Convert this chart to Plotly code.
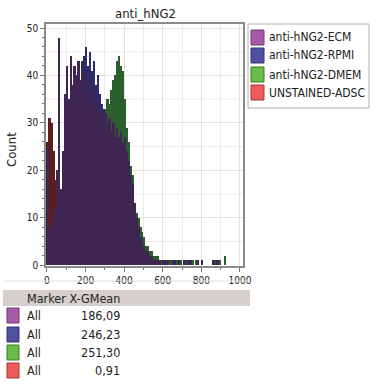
import plotly.graph_objects as go

# ---------------- data ----------------
bin_width = 10
bin_centers = [5 + 10 * i for i in range(100)]

ecm_counts = [25, 8, 7, 9, 12, 20, 48, 16, 24, 36,
              42, 35, 44, 38, 42, 40, 43, 38, 41, 37,
              40, 36, 39, 35, 37, 33, 35, 31, 33, 30,
              32, 29, 31, 28, 30, 27, 29, 27, 28, 26,
              27, 24, 22, 19, 17, 13, 10, 8, 6, 5,
              4, 3, 3, 2, 2, 1, 1, 1, 1, 0,
              1, 0, 1, 0, 0, 1, 0, 0, 1, 0,
              0, 1, 0, 0, 1, 0, 0, 0, 1, 0,
              1, 0, 0, 0, 0, 0, 1, 0, 1, 0,
              0, 0, 0, 0, 0, 0, 0, 0, 0, 0]
rpmi_counts = [10, 6, 5, 6, 8, 10, 14, 16, 20, 23,
               26, 29, 31, 34, 36, 38, 40, 39, 43, 44,
               46, 42, 45, 41, 43, 38, 40, 36, 34, 33,
               31, 30, 29, 27, 26, 25, 24, 23, 22, 21,
               20, 18, 17, 15, 13, 10, 8, 6, 5, 4,
               3, 2, 2, 1, 1, 1, 0, 0, 0, 0,
               0, 1, 0, 0, 0, 0, 1, 0, 0, 0,
               0, 0, 0, 1, 0, 0, 0, 0, 0, 0,
               0, 0, 0, 0, 0, 0, 0, 0, 0, 0,
               0, 0, 0, 0, 0, 0, 0, 0, 0, 0]
dmem_counts = [5, 4, 4, 5, 6, 7, 9, 10, 12, 14,
               16, 17, 19, 20, 21, 22, 23, 24, 25, 25,
               26, 27, 27, 28, 28, 29, 30, 30, 31, 32,
               33, 35, 34, 37, 39, 40, 43, 44, 42, 41,
               35, 29, 26, 21, 19, 13, 11, 10, 8, 7,
               6, 4, 4, 3, 3, 2, 2, 2, 1, 1,
               1, 1, 0, 1, 1, 0, 1, 1, 0, 1,
               0, 1, 1, 0, 0, 1, 0, 1, 0, 0,
               1, 0, 0, 0, 0, 0, 0, 1, 0, 1,
               0, 0, 2, 0, 0, 0, 0, 0, 0, 0]
unstained_counts = [26, 31, 30, 24, 18, 8, 3, 1] + [0] * 92

series_names = ["anti-hNG2-ECM", "anti-hNG2-RPMI", "anti-hNG2-DMEM", "UNSTAINED-ADSC"]
gmean_values = ["186,09", "246,23", "251,30", "0,91"]
x_tick_vals = [0, 200, 400, 600, 800, 1000]
y_tick_vals = [0, 10, 20, 30, 40, 50]

# ---------------- styles ----------------
fill_colors = {"anti-hNG2-ECM": "#3f2552", "anti-hNG2-RPMI": "#2d2a68",
               "anti-hNG2-DMEM": "#2a5e2c", "UNSTAINED-ADSC": "#5e1d1d"}
swatch_colors = ["#a65aa8", "#4f509e", "#6abd48", "#ef5b5b"]
swatch_edges = ["#6a3a6c", "#33346a", "#3f7a2a", "#a03838"]

FONT = "DejaVu Sans Condensed, DejaVu Sans, sans-serif"

fig = go.Figure()
draw_order = [("UNSTAINED-ADSC", unstained_counts), ("anti-hNG2-DMEM", dmem_counts),
              ("anti-hNG2-RPMI", rpmi_counts), ("anti-hNG2-ECM", ecm_counts)]
for name, counts in draw_order:
    fig.add_trace(go.Bar(
        x=bin_centers, y=counts, width=bin_width, name=name,
        marker=dict(color=fill_colors[name], line=dict(width=0)),
        showlegend=False, hoverinfo="skip"))

# layout geometry (pixels)
W, H = 370, 384
L, R, T, B = 46, 127, 24, 118
pw, ph = W - L - R, H - T - B


def px(x):
    return (x - L) / pw


def py(y):
    return (H - B - y) / ph


shapes = []
annotations = []

# legend box
shapes.append(dict(type="rect", xref="paper", yref="paper",
                   x0=px(248), x1=px(369), y0=py(108), y1=py(24),
                   line=dict(color="#b0b0b0", width=1), fillcolor="white"))
leg_tops = [30, 48, 67, 85]
for i, name in enumerate(series_names):
    t = leg_tops[i]
    shapes.append(dict(type="rect", xref="paper", yref="paper",
                       x0=px(251), x1=px(264), y0=py(t + 15), y1=py(t),
                       line=dict(color=swatch_edges[i], width=1),
                       fillcolor=swatch_colors[i]))
    annotations.append(dict(text=name, xref="paper", yref="paper",
                            x=px(267), y=py(t + 7.5), xanchor="left", yanchor="middle",
                            showarrow=False, font=dict(family=FONT, size=12, color="#222")))

# table header band
shapes.append(dict(type="rect", xref="paper", yref="paper",
                   x0=px(3), x1=px(250), y0=py(306), y1=py(290),
                   line=dict(width=0), fillcolor="#d6d0cc"))
shapes.append(dict(type="line", xref="paper", yref="paper",
                   x0=px(3), x1=px(250), y0=py(281), y1=py(281),
                   line=dict(color="#e4e0dc", width=1)))
annotations.append(dict(text="Marker X-GMean", xref="paper", yref="paper",
                        x=px(25), y=py(298), xanchor="left", yanchor="middle",
                        showarrow=False, font=dict(family=FONT, size=12.5, color="#222")))
row_tops = [308, 327, 345, 363]
for i, val in enumerate(gmean_values):
    t = row_tops[i]
    shapes.append(dict(type="rect", xref="paper", yref="paper",
                       x0=px(7), x1=px(19), y0=py(t + 15), y1=py(t),
                       line=dict(color=swatch_edges[i], width=1),
                       fillcolor=swatch_colors[i]))
    annotations.append(dict(text="All", xref="paper", yref="paper",
                            x=px(25), y=py(t + 7.5), xanchor="left", yanchor="middle",
                            showarrow=False, font=dict(family=FONT, size=12.5, color="#222")))
    annotations.append(dict(text=val, xref="paper", yref="paper",
                            x=px(122), y=py(t + 7.5), xanchor="right", yanchor="middle",
                            showarrow=False, font=dict(family=FONT, size=12.5, color="#222")))

# title and y axis label
annotations.append(dict(text="anti_hNG2", xref="paper", yref="paper",
                        x=px(145), y=py(14), xanchor="center", yanchor="middle",
                        showarrow=False, font=dict(family=FONT, size=13, color="#222")))
annotations.append(dict(text="Count", xref="paper", yref="paper",
                        x=px(11), y=py(150), xanchor="center", yanchor="middle",
                        textangle=-90, showarrow=False,
                        font=dict(family=FONT, size=13, color="#222")))

fig.update_layout(
    width=W, height=H, autosize=False,
    margin=dict(l=L, r=R, t=T, b=B, pad=0),
    paper_bgcolor="white", plot_bgcolor="white",
    barmode="overlay", bargap=0,
    shapes=shapes, annotations=annotations,
    font=dict(family=FONT, size=10, color="#222"),
)
fig.update_xaxes(range=[-5, 1016], tickvals=x_tick_vals, ticks="outside", ticklen=4,
                 tickcolor="#777", showline=True, linecolor="#8a8a8a", linewidth=1.5,
                 mirror=True, showgrid=True, gridcolor="#e8dedb", gridwidth=1,
                 zeroline=False, tickfont=dict(size=10),
                 minor=dict(dtick=100, ticks="outside", ticklen=2, tickcolor="#777",
                            showgrid=True, gridcolor="#f0eae8"))
fig.update_yaxes(range=[-0.2, 50.85], tickvals=y_tick_vals, ticks="outside", ticklen=4,
                 tickcolor="#777", showline=True, linecolor="#8a8a8a", linewidth=1.5,
                 mirror=True, showgrid=True, gridcolor="#e8dedb", gridwidth=1,
                 zeroline=False, tickfont=dict(size=10),
                 minor=dict(dtick=2, ticks="outside", ticklen=2, tickcolor="#777",
                            showgrid=False))
for v in [5, 15, 25, 35, 45]:
    fig.add_shape(type="line", xref="paper", yref="y", x0=0, x1=1, y0=v, y1=v,
                  line=dict(color="#f0eae8", width=1), layer="below")

fig.write_html("out.html", config={"displayModeBar": False},
               post_script="document.body.style.margin='0';document.body.style.overflow='hidden';")
